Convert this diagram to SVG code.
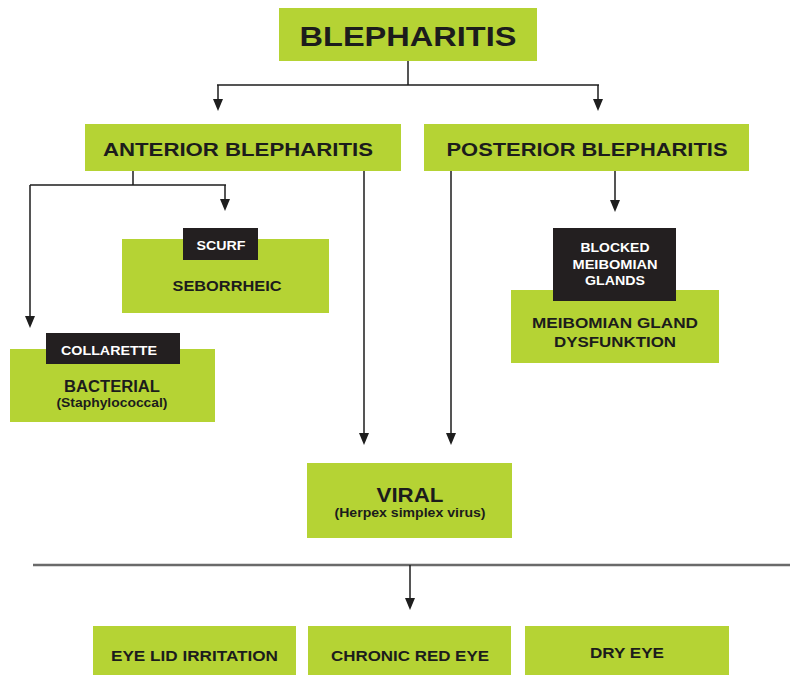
<svg xmlns="http://www.w3.org/2000/svg" width="790" height="675" viewBox="0 0 790 675">
<defs>
<style>
.g{fill:#b5d334}
.k{fill:#231f20}
.t{font-family:"Liberation Sans",Arial,sans-serif;font-weight:bold;fill:#1c1c1c;text-anchor:middle}
.w{font-family:"Liberation Sans",Arial,sans-serif;font-weight:bold;fill:#ffffff;text-anchor:middle}
.c{fill:none;stroke:#1e1e1e;stroke-width:1.5}
.h{fill:#1e1e1e}
</style>
</defs>
<rect width="790" height="675" fill="#ffffff"/>
<g id="connectors">
<path class="c" d="M408,61 V85 M217,85 H599"/>
<path class="c" d="M218,85 V100 M598,85 V100"/>
<path class="c" d="M133,171 V185 M30,185 H226"/>
<path class="c" d="M30,185 V317 M225,185 V200 M615,171 V201"/>
<path class="c" d="M364,171 V434 M451,171 V434"/>
<line x1="33" y1="565" x2="790" y2="565" stroke="#6a6a6a" stroke-width="2.5"/>
<path class="c" d="M410,565 V599"/>
<path class="h" d="M213,99 L223,99 L218,111 Z"/>
<path class="h" d="M593,99 L603,99 L598,111 Z"/>
<path class="h" d="M25,316 L35,316 L30,328 Z"/>
<path class="h" d="M220,199 L230,199 L225,211 Z"/>
<path class="h" d="M610,200 L620,200 L615,212 Z"/>
<path class="h" d="M359,433 L369,433 L364,445 Z"/>
<path class="h" d="M446,433 L456,433 L451,445 Z"/>
<path class="h" d="M405,598 L415,598 L410,610 Z"/>
</g>
<g id="blepharitis">
<rect class="g" x="279" y="8" width="258" height="53"/>
<text class="t" x="408" y="46" font-size="27" textLength="217" lengthAdjust="spacingAndGlyphs">BLEPHARITIS</text>
</g>
<g id="anterior">
<rect class="g" x="85" y="124" width="316" height="47"/>
<text class="t" x="238" y="156" font-size="19" textLength="270" lengthAdjust="spacingAndGlyphs">ANTERIOR BLEPHARITIS</text>
</g>
<g id="posterior">
<rect class="g" x="424" y="124" width="325" height="47"/>
<text class="t" x="587" y="156" font-size="19" textLength="281" lengthAdjust="spacingAndGlyphs">POSTERIOR BLEPHARITIS</text>
</g>
<g id="seborrheic">
<rect class="g" x="122" y="239" width="207" height="74"/>
<rect class="k" x="183" y="228" width="75" height="32"/>
<text class="w" x="221" y="250" font-size="13" textLength="49" lengthAdjust="spacingAndGlyphs">SCURF</text>
<text class="t" x="227" y="291" font-size="15" textLength="109" lengthAdjust="spacingAndGlyphs">SEBORRHEIC</text>
</g>
<g id="bacterial">
<rect class="g" x="10" y="349" width="205" height="73"/>
<rect class="k" x="46" y="333" width="134" height="31"/>
<text class="w" x="109" y="355" font-size="13" textLength="96" lengthAdjust="spacingAndGlyphs">COLLARETTE</text>
<text class="t" x="112" y="392" font-size="16" textLength="96" lengthAdjust="spacingAndGlyphs">BACTERIAL</text>
<text class="t" x="112" y="407" font-size="12.5" textLength="111" lengthAdjust="spacingAndGlyphs">(Staphylococcal)</text>
</g>
<g id="mgd">
<rect class="g" x="511" y="290" width="208" height="73"/>
<rect class="k" x="553" y="228" width="123" height="73"/>
<text class="w" x="615" y="252" font-size="13" textLength="69" lengthAdjust="spacingAndGlyphs">BLOCKED</text>
<text class="w" x="615" y="268.5" font-size="13" textLength="85" lengthAdjust="spacingAndGlyphs">MEIBOMIAN</text>
<text class="w" x="615" y="285" font-size="13" textLength="60" lengthAdjust="spacingAndGlyphs">GLANDS</text>
<text class="t" x="615" y="328" font-size="15" textLength="166" lengthAdjust="spacingAndGlyphs">MEIBOMIAN GLAND</text>
<text class="t" x="615" y="347" font-size="15" textLength="122" lengthAdjust="spacingAndGlyphs">DYSFUNKTION</text>
</g>
<g id="viral">
<rect class="g" x="307" y="463" width="205" height="75"/>
<text class="t" x="410" y="502" font-size="20" textLength="67" lengthAdjust="spacingAndGlyphs">VIRAL</text>
<text class="t" x="410" y="517" font-size="12" textLength="151" lengthAdjust="spacingAndGlyphs">(Herpex simplex virus)</text>
</g>
<g id="eyelid">
<rect class="g" x="93" y="626" width="203" height="49"/>
<text class="t" x="194.5" y="661" font-size="15" textLength="167" lengthAdjust="spacingAndGlyphs">EYE LID IRRITATION</text>
</g>
<g id="chronic">
<rect class="g" x="308" y="626" width="203" height="49"/>
<text class="t" x="410" y="661" font-size="15" textLength="158" lengthAdjust="spacingAndGlyphs">CHRONIC RED EYE</text>
</g>
<g id="dryeye">
<rect class="g" x="525" y="626" width="204" height="49"/>
<text class="t" x="627" y="658" font-size="15" textLength="74" lengthAdjust="spacingAndGlyphs">DRY EYE</text>
</g>
</svg>
